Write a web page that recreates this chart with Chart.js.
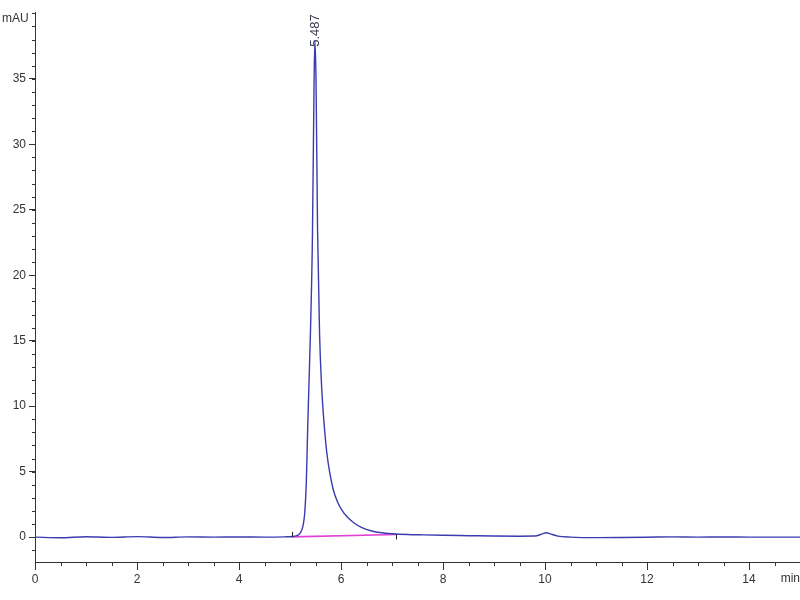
<!DOCTYPE html>
<html lang="en">
	<head>
		<meta charset="UTF-8">
		<title>Chromatogram</title>
		<style>
			html, body { margin: 0; padding: 0; background: #fff; }
			#wrap { width: 800px; height: 600px; }
		</style>
	</head>
	<body>
		<div id="wrap"><canvas id="chromChart" width="800" height="600"></canvas></div>
		<script src="https://cdn.jsdelivr.net/npm/chart.js"></script>
		<script>
			// retention time (min) and signal (mAU)
			const times = [0, 0.5, 1.0, 1.5, 2.0, 2.5, 3.0, 3.5, 4.0, 4.5, 4.9, 5.05, 5.12, 5.18, 5.22, 5.26, 5.29, 5.32, 5.35, 5.4, 5.44, 5.47, 5.487, 5.51, 5.54, 5.58, 5.62, 5.67, 5.72, 5.78, 5.85, 5.93, 6.02, 6.12, 6.25, 6.4, 6.6, 6.8, 7.0, 7.3, 7.6, 8.0, 8.5, 9.0, 9.5, 9.8, 9.95, 10.02, 10.1, 10.25, 10.5, 11.0, 11.5, 12.0, 12.5, 13.0, 13.5, 14.0, 14.5, 15.0];
			const signal = [0.0, -0.05, 0.03, -0.02, 0.04, -0.03, 0.02, 0.0, 0.01, 0.0, 0.02, 0.05, 0.1, 0.22, 0.45, 0.95, 1.9, 4.2, 8.8, 15.5, 23.0, 34.0, 37.9, 35.0, 23.5, 15.5, 11.5, 8.6, 6.5, 4.9, 3.6, 2.7, 2.05, 1.55, 1.1, 0.75, 0.47, 0.33, 0.26, 0.2, 0.17, 0.14, 0.11, 0.08, 0.07, 0.08, 0.25, 0.33, 0.25, 0.08, 0.0, -0.04, -0.03, -0.01, 0.02, 0.0, 0.01, 0.0, 0.0, 0.0];

			// integration baseline (start / end)
			const baseTimes = [5.03, 7.08];
			const baseValues = [0.02, 0.2];

			// peak annotation
			const peakTime = 5.487;
			const peakHeight = 37.9;
			const peakLabel = '5.487';

			// axes
			const xTickLabels = [0, 2, 4, 6, 8, 10, 12, 14];
			const yTickLabels = [0, 5, 10, 15, 20, 25, 30, 35];
			const xMinorStep = 0.5;
			const yMinorStep = 1;
			const xRange = [0, 15];
			const yRange = [-1.9, 40.1];

			const axisColor = '#333333';
			const fontFamily = '"Liberation Sans Narrow", "Liberation Sans", Arial, sans-serif';

			const traceData = times.map((t, i) => ({ x: t, y: signal[i] }));
			const baseData = baseTimes.map((t, i) => ({ x: t, y: baseValues[i] }));

			// minor ticks, peak label and unit labels
			const extras = {
				id: 'extras',
				afterDraw(chart) {
					const ctx = chart.ctx;
					const xs = chart.scales.x;
					const ys = chart.scales.y;
					const area = chart.chartArea;
					ctx.save();
					ctx.strokeStyle = axisColor;
					ctx.lineWidth = 1;
					ctx.beginPath();
					for (let v = xRange[0]; v <= xRange[1] + 1e-9; v += xMinorStep) {
						const px = Math.round(xs.getPixelForValue(v)) + 0.5;
						ctx.moveTo(px, area.bottom);
						ctx.lineTo(px, area.bottom + 4);
					}
					for (let v = Math.ceil(yRange[0]); v <= yRange[1]; v += yMinorStep) {
						const py = Math.round(ys.getPixelForValue(v)) + 0.5;
						ctx.moveTo(area.left - 3, py);
						ctx.lineTo(area.left, py);
					}
					ctx.stroke();

					// integration markers
					ctx.strokeStyle = '#222';
					ctx.beginPath();
					let px = Math.round(xs.getPixelForValue(baseTimes[0])) + 0.5;
					let py = ys.getPixelForValue(baseValues[0]);
					ctx.moveTo(px, py);
					ctx.lineTo(px, py - 5);
					px = Math.round(xs.getPixelForValue(baseTimes[1])) + 0.5;
					py = ys.getPixelForValue(baseValues[1]);
					ctx.moveTo(px, py);
					ctx.lineTo(px, py + 5);
					ctx.stroke();

					// peak label, vertical, sitting on the apex
					ctx.fillStyle = '#3a3a50';
					ctx.font = '13px ' + fontFamily;
					ctx.translate(xs.getPixelForValue(peakTime) + 1, ys.getPixelForValue(peakHeight) + 6);
					ctx.rotate(-Math.PI / 2);
					ctx.textAlign = 'left';
					ctx.textBaseline = 'middle';
					ctx.fillText(peakLabel, 0, 0);
					ctx.restore();

					ctx.save();
					ctx.fillStyle = axisColor;
					ctx.font = '12px ' + fontFamily;
					ctx.textBaseline = 'middle';
					ctx.textAlign = 'left';
					ctx.fillText('mAU', 2, area.top + 7);
					ctx.textAlign = 'right';
					ctx.fillText('min', chart.width, area.bottom + 17);
					ctx.restore();
				}
			};

			const ctx = document.getElementById('chromChart').getContext('2d');
			const myChart = new Chart(ctx, {
				type: 'line',
				data: {
					datasets: [{
						data: traceData,
						borderColor: '#3b3bb0',
						borderWidth: 1.4,
						pointRadius: 0,
						cubicInterpolationMode: 'monotone',
						fill: false,
						order: 1
					},
					{
						data: baseData,
						borderColor: '#e040d8',
						borderWidth: 1.6,
						pointRadius: 0,
						fill: false,
						order: 2
					}]
				},
				options: {
					responsive: false,
					animation: false,
					layout: { padding: { top: 12, right: 0, left: 0, bottom: 0 } },
					plugins: { legend: { display: false }, tooltip: { enabled: false } },
					scales: {
						x: {
							type: 'linear',
							min: xRange[0],
							max: xRange[1],
							afterBuildTicks: s => { s.ticks = xTickLabels.map(v => ({ value: v })); },
							afterFit: s => { s.height = 38; },
							border: { display: true, color: axisColor, width: 1 },
							grid: { drawOnChartArea: false, drawTicks: true, tickLength: 8, color: axisColor },
							ticks: { color: axisColor, padding: 2, maxRotation: 0, autoSkip: false, font: { family: fontFamily, size: 12 } }
						},
						y: {
							type: 'linear',
							min: yRange[0],
							max: yRange[1],
							afterBuildTicks: s => { s.ticks = yTickLabels.map(v => ({ value: v })); },
							afterFit: s => { s.width = 35; },
							border: { display: true, color: axisColor, width: 1 },
							grid: { drawOnChartArea: false, drawTicks: true, tickLength: 6, color: axisColor },
							ticks: { color: axisColor, padding: 3, autoSkip: false, font: { family: fontFamily, size: 12 } }
						}
					}
				},
				plugins: [extras]
			});
		</script>
	</body>
</html>
